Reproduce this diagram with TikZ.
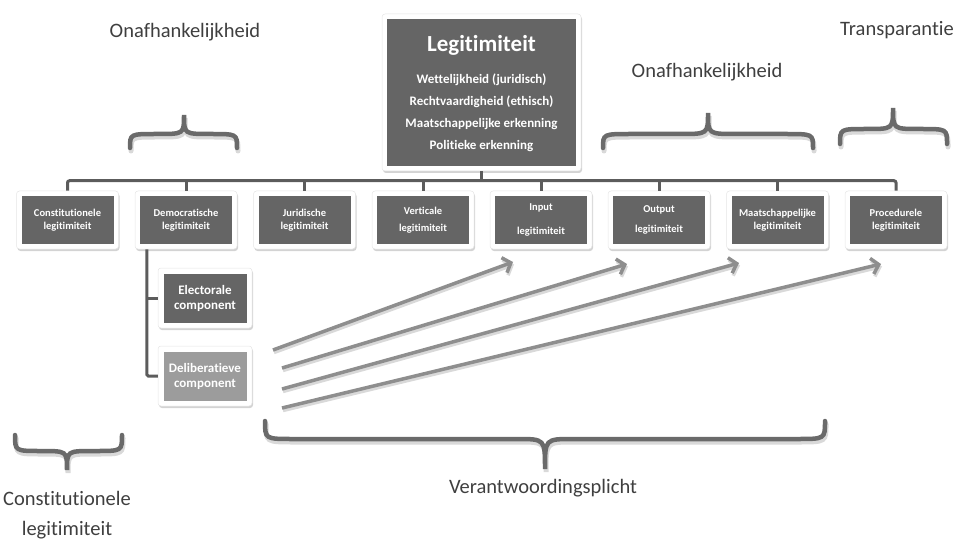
\documentclass[tikz,border=0pt]{standalone}
\usepackage{fontspec}
\setmainfont[Ligatures=NoCommon]{Carlito}
\usetikzlibrary{arrows.meta,shadows}
\definecolor{boxgray}{HTML}{656565}
\definecolor{lightbox}{HTML}{9C9C9C}
\definecolor{conngray}{HTML}{5C5C5C}
\definecolor{arrowgray}{HTML}{8E8E8E}
\definecolor{bracegray}{HTML}{6A6A6A}
\definecolor{labelgray}{HTML}{3F3F3F}
\begin{document}
\begin{tikzpicture}[x=1pt,y=-1pt,
  frame/.style={fill=white, rounded corners=3pt, draw=black!10, line width=0.5pt,
    drop shadow={shadow xshift=1pt,shadow yshift=-2pt,opacity=0.35},
    minimum width=102pt, minimum height=58pt, inner sep=0pt},
  darkbox/.style={fill=boxgray, text=white, minimum width=92pt, minimum height=48pt,
    align=center, inner sep=1pt, font=\fontsize{10.5}{12.5}\selectfont\bfseries},
  subframe/.style={frame, minimum width=94pt, minimum height=60pt},
  subbox/.style={darkbox, minimum width=83pt, minimum height=49pt,
    font=\fontsize{13}{15}\selectfont\bfseries},
  conn/.style={draw=conngray, line width=3pt, rounded corners=2pt},
  arr/.style={draw=arrowgray, line width=3.5pt, -{Straight Barb[length=7pt,width=16pt]}},
  arrshadow/.style={draw=black!15, line width=3.5pt, -{Straight Barb[length=7pt,width=16pt]}},
  bracestyle/.style={draw=bracegray, line width=4.5pt, line cap=round},
  braceshadow/.style={draw=black!15, line width=5pt, line cap=round},
  label/.style={text=labelgray, font=\fontsize{20.5}{30}\selectfont, align=center},
]
\useasboundingbox (0,0) rectangle (960,545);

% top box
\node[frame, minimum width=199pt, minimum height=157pt] (tf) at (481.5,92.5) {};
\node[fill=boxgray, minimum width=189pt, minimum height=147pt, inner sep=0pt] (top) at (tf) {};
\node[text=white, font=\fontsize{23}{26}\selectfont\bfseries] (title) at (481.5,45) {Legitimiteit};
\node[text=white, align=center, font=\fontsize{13}{22}\selectfont\bfseries] (crit) at (481.5,113)
  {Wettelijkheid (juridisch)\\Rechtvaardigheid (ethisch)\\Maatschappelijke erkenning\\Politieke erkenning};

% row of boxes
\node[frame] (f1) at (67.5,220) {};
\node[darkbox] (b1) at (f1) {Constitutionele\\legitimiteit};
\node[frame] (f2) at (186,220) {};
\node[darkbox] (b2) at (f2) {Democratische\\legitimiteit};
\node[frame] (f3) at (304.5,220) {};
\node[darkbox] (b3) at (f3) {Juridische\\legitimiteit};
\node[frame] (f4) at (423,220) {};
\node[darkbox] (b4) at (f4) {Verticale\\[5pt]legitimiteit};
\node[frame] (f5) at (541,220) {};
\node[darkbox] (b5) at (f5) {Input\\[12pt]legitimiteit};
\node[frame] (f6) at (659,220) {};
\node[darkbox] (b6) at (f6) {Output\\[7pt]legitimiteit};
\node[frame] (f7) at (777.5,220) {};
\node[darkbox] (b7) at (f7) {Maatschappelijke\\legitimiteit};
\node[frame] (f8) at (896,220) {};
\node[darkbox] (b8) at (f8) {Procedurele\\legitimiteit};

% sub boxes
\node[subframe] (ef) at (205,298) {};
\node[subbox] (eb) at (ef) {Electorale\\component};
\node[subframe] (df) at (205,376) {};
\node[subbox, fill=lightbox] (db) at (df) {Deliberatieve\\component};

% connectors
\draw[conn] (f1.north) -- ++(0,-10) -| (f8.north);
\foreach \i in {2,...,7} \draw[conn] (f\i.north) -- ++(0,-10);
\draw[conn] (tf.south) -- ++(0,10);
\draw[conn, rounded corners=1.5pt] ([xshift=12pt]f2.south west) |- (df.west);
\draw[conn] ([xshift=12pt]f2.south west |- ef.west) -- (ef.west);

% arrows
\coordinate (s1) at (273,350);
\coordinate (s2) at (282,368);
\coordinate (s3) at (282,389);
\coordinate (s4) at (282,408);
\coordinate (t1) at (513,262);
\coordinate (t2) at (627,264);
\coordinate (t3) at (739,263);
\coordinate (t4) at (881,264);
\foreach \i in {1,...,4} \draw[arrshadow] ([shift={(1,2.5)}]s\i) -- ([shift={(1,2.5)}]t\i);
\foreach \i in {1,...,4} \draw[arr] (s\i) -- (t\i);

% braces: x1/xm/x2/arm y/end y/tip y/radius
\foreach \x/\y/\z/\ya/\yb/\yt/\r in {130/184/237/134/148/115/26, 603/708/813/134/148/113/28, 840/893/947/129/144/108/26,
                                     15/67/122/451/435/470/26, 265/545/825/439/421/469/28}{
  \draw[braceshadow] (\x+1,\yb+3) .. controls (\x+1,\ya+3) .. (\x+\r+1,\ya+3) -- (\y-\r+1,\ya+3)
     .. controls (\y+1,\ya+3) .. (\y+1,\yt+3) .. controls (\y+1,\ya+3) .. (\y+\r+1,\ya+3)
     -- (\z-\r+1,\ya+3) .. controls (\z+1,\ya+3) .. (\z+1,\yb+3);
  \draw[bracestyle] (\x,\yb) .. controls (\x,\ya) .. (\x+\r,\ya) -- (\y-\r,\ya)
     .. controls (\y,\ya) .. (\y,\yt) .. controls (\y,\ya) .. (\y+\r,\ya)
     -- (\z-\r,\ya) .. controls (\z,\ya) .. (\z,\yb);
}

% labels
\node[label] (on1) at (185,32) {Onafhankelijkheid};
\node[label] (on2) at (707,72) {Onafhankelijkheid};
\node[label] (tr) at (897,30) {Transparantie};
\node[label] (ver) at (543,488) {Verantwoordingsplicht};
\node[label] (con) at (67,515) {Constitutionele\\legitimiteit};
\end{tikzpicture}
\end{document}
